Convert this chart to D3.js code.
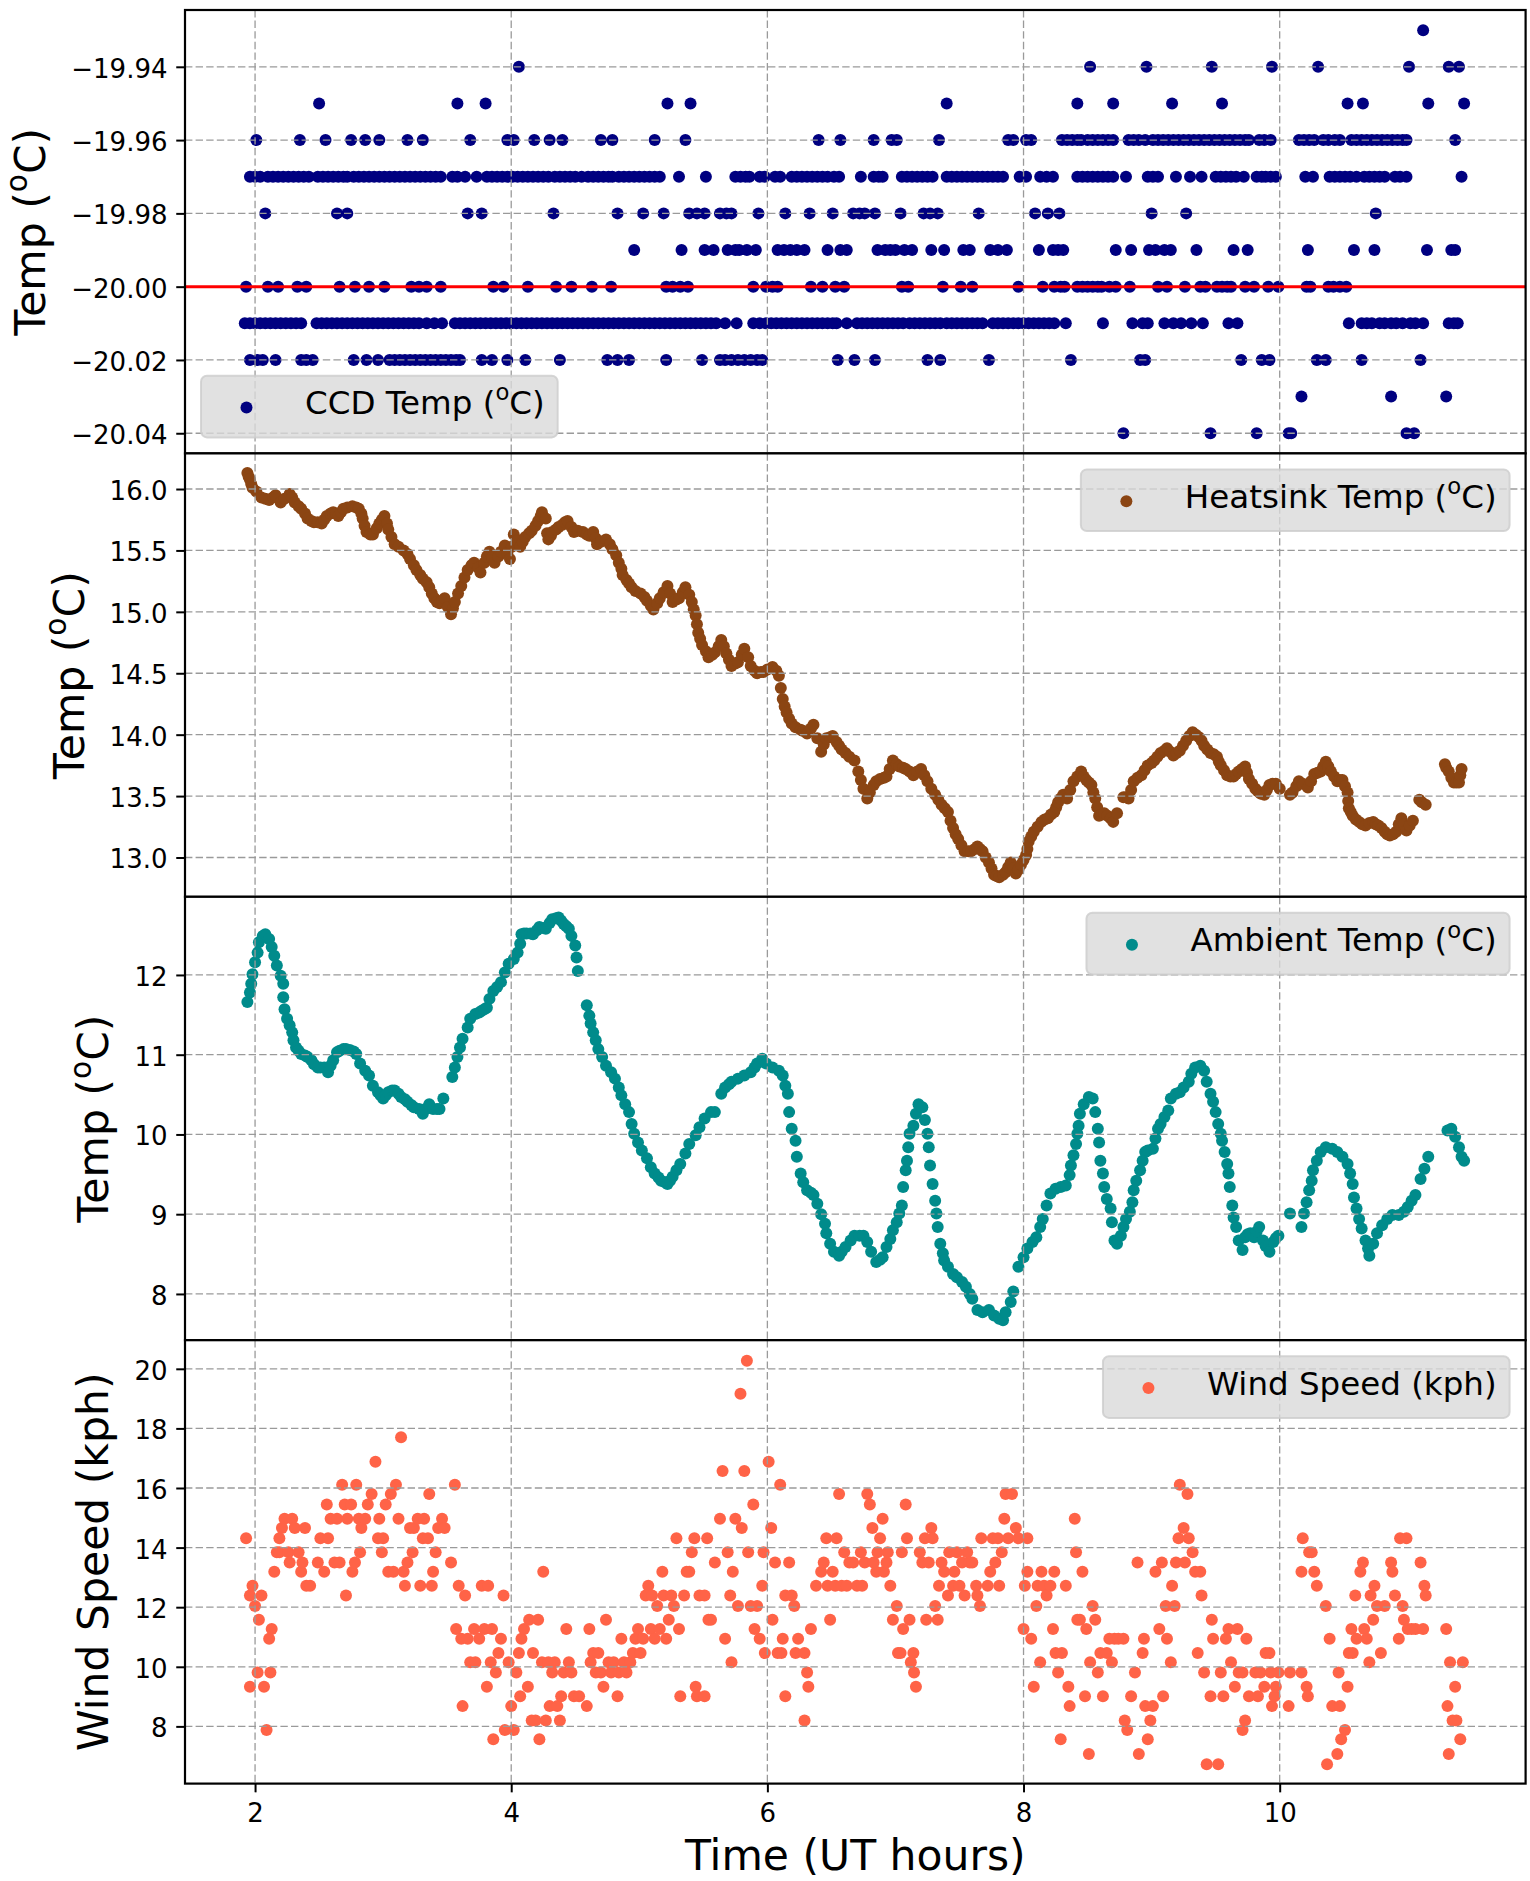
<!DOCTYPE html>
<html>
<head>
<meta charset="utf-8">
<title>CCD, heatsink, ambient temperature and wind log</title>
<script src="https://d3js.org/d3.v7.min.js"></script>
<style>
  body { margin: 0; background: #fff; }
  svg { display: block; font-family: "DejaVu Sans", sans-serif; }
</style>
</head>
<body>
<svg id="chart" width="1530" height="1881"></svg>
<script>
"use strict";

// shared time axis (UT hours)
var timeDomain = [1.453, 11.92];
var timeTicks = [2, 4, 6, 8, 10];
var timeLabel = ["Time (UT hours)"];

// CCD temperature: the sensor reports in 0.01 steps, so keep one list of sample times per level
var ccdLevels = [-19.93, -19.94, -19.95, -19.96, -19.97, -19.98, -19.99, -20.00, -20.01, -20.02, -20.03, -20.04];
var ccdAt1993 = [11.12];
var ccdAt1994 = [4.06, 8.52, 8.96, 9.47, 9.94, 10.30, 11.01, 11.32, 11.40];
var ccdAt1995 = [2.50, 3.58, 3.80, 5.22, 5.40, 7.40, 8.42, 8.70, 9.16, 9.55, 10.53, 10.65, 11.16, 11.44];
var ccdAt1996 = [2.01, 2.35, 2.55, 2.75, 2.86, 2.97, 3.19, 3.31, 3.68, 3.97, 4.02, 4.18, 4.30, 4.40, 4.70, 4.79,
  5.12, 5.36, 6.40, 6.57, 6.83, 6.97, 7.01, 7.34, 7.88, 7.92, 8.02, 8.06, 8.30, 8.34, 8.38, 8.42, 8.45,
  8.50, 8.54, 8.58, 8.62, 8.66, 8.70, 8.82, 8.86, 8.90, 8.95, 9.01, 9.05, 9.09, 9.13, 9.17, 9.21, 9.25,
  9.29, 9.33, 9.37, 9.41, 9.45, 9.49, 9.53, 9.57, 9.61, 9.65, 9.69, 9.73, 9.76, 9.84, 9.88, 9.93,
  10.15, 10.19, 10.23, 10.27, 10.34, 10.38, 10.43, 10.47, 10.56, 10.60, 10.64, 10.68, 10.72, 10.76,
  10.80, 10.84, 10.88, 10.92, 10.96, 10.99, 11.37];
var ccdAt1997 = [1.96, 2.00, 2.04, 2.10, 2.14, 2.18, 2.22, 2.26, 2.30, 2.34, 2.38, 2.42, 2.49, 2.53, 2.57,
  2.61, 2.65, 2.69, 2.72, 2.77, 2.81, 2.85, 2.89, 2.93, 2.97, 3.01, 3.05, 3.09, 3.13, 3.17, 3.21, 3.25,
  3.29, 3.33, 3.37, 3.41, 3.45, 3.54, 3.58, 3.64, 3.73, 3.81, 3.85, 3.89, 3.93, 3.97, 4.01, 4.05, 4.09,
  4.13, 4.17, 4.21, 4.25, 4.29, 4.34, 4.38, 4.42, 4.46, 4.50, 4.55, 4.60, 4.64, 4.68, 4.72, 4.76, 4.79,
  4.84, 4.88, 4.92, 4.96, 5.00, 5.04, 5.08, 5.12, 5.16, 5.31, 5.52, 5.75, 5.79, 5.83, 5.86, 5.94, 5.98,
  6.06, 6.10, 6.19, 6.23, 6.27, 6.31, 6.35, 6.39, 6.43, 6.47, 6.52, 6.56, 6.73, 6.83, 6.87, 6.90,
  7.05, 7.09, 7.13, 7.17, 7.21, 7.25, 7.29, 7.40, 7.44, 7.48, 7.52, 7.56, 7.60, 7.64, 7.68, 7.72, 7.76,
  7.80, 7.84, 7.97, 8.02, 8.13, 8.18, 8.23, 8.42, 8.46, 8.50, 8.54, 8.58, 8.62, 8.66, 8.70, 8.80, 8.97,
  9.01, 9.05, 9.19, 9.30, 9.39, 9.50, 9.54, 9.58, 9.62, 9.66, 9.72, 9.82, 9.86, 9.89, 9.93, 9.97,
  10.20, 10.26, 10.39, 10.43, 10.47, 10.51, 10.55, 10.60, 10.66, 10.70, 10.74, 10.78, 10.82, 10.90,
  10.94, 10.99, 11.42];
var ccdAt1998 = [2.08, 2.64, 2.72, 3.66, 3.77, 4.33, 4.83, 5.03, 5.19, 5.39, 5.45, 5.51, 5.63, 5.68, 5.72,
  5.93, 6.14, 6.33, 6.51, 6.67, 6.72, 6.76, 6.84, 7.04, 7.22, 7.27, 7.33, 7.65, 8.09, 8.19, 8.28, 9.00,
  9.27, 10.75];
var ccdAt1999 = [4.96, 5.33, 5.51, 5.58, 5.69, 5.75, 5.78, 5.84, 5.91, 6.08, 6.13, 6.18, 6.23, 6.29, 6.47,
  6.57, 6.62, 6.86, 6.92, 6.96, 7.00, 7.07, 7.13, 7.28, 7.38, 7.53, 7.58, 7.74, 7.80, 7.87, 8.12, 8.23,
  8.27, 8.31, 8.72, 8.84, 8.98, 9.03, 9.10, 9.15, 9.35, 9.64, 9.75, 10.22, 10.58, 10.74, 11.15, 11.34,
  11.37];
var ccdAt2000 = [1.93, 2.10, 2.18, 2.33, 2.40, 2.66, 2.78, 2.89, 3.01, 3.22, 3.28, 3.34, 3.45, 3.86, 3.94,
  4.13, 4.35, 4.47, 4.63, 4.78, 5.21, 5.26, 5.32, 5.38, 5.89, 5.99, 6.04, 6.08, 6.34, 6.43, 6.53, 6.60,
  7.05, 7.10, 7.37, 7.51, 7.60, 7.96, 8.15, 8.24, 8.29, 8.32, 8.42, 8.46, 8.50, 8.54, 8.58, 8.61, 8.67,
  8.72, 8.83, 9.05, 9.12, 9.26, 9.38, 9.42, 9.51, 9.55, 9.59, 9.62, 9.73, 9.80, 9.91, 9.99, 10.21,
  10.24, 10.38, 10.42, 10.47, 10.52];
var ccdAt2001 = [1.92, 1.96, 2.00, 2.04, 2.08, 2.12, 2.16, 2.20, 2.24, 2.28, 2.32, 2.36, 2.48, 2.52, 2.56,
  2.60, 2.64, 2.68, 2.72, 2.76, 2.80, 2.84, 2.88, 2.92, 2.96, 3.00, 3.04, 3.08, 3.12, 3.16, 3.20, 3.24,
  3.28, 3.34, 3.40, 3.46, 3.56, 3.60, 3.64, 3.68, 3.72, 3.76, 3.80, 3.84, 3.88, 3.92, 3.96, 4.00, 4.04,
  4.08, 4.12, 4.16, 4.20, 4.24, 4.28, 4.32, 4.36, 4.40, 4.44, 4.48, 4.52, 4.56, 4.60, 4.64, 4.68, 4.72,
  4.76, 4.80, 4.84, 4.88, 4.92, 4.96, 5.00, 5.04, 5.08, 5.12, 5.16, 5.20, 5.24, 5.28, 5.32, 5.36, 5.40,
  5.44, 5.48, 5.52, 5.56, 5.60, 5.67, 5.76, 5.89, 5.94, 5.99, 6.03, 6.07, 6.11, 6.15, 6.19, 6.23, 6.27,
  6.31, 6.35, 6.39, 6.43, 6.47, 6.51, 6.54, 6.62, 6.70, 6.74, 6.78, 6.82, 6.86, 6.90, 6.94, 6.98, 7.02,
  7.06, 7.11, 7.15, 7.19, 7.23, 7.27, 7.31, 7.35, 7.40, 7.44, 7.48, 7.52, 7.56, 7.60, 7.64, 7.68, 7.76,
  7.80, 7.84, 7.88, 7.92, 7.96, 8.00, 8.04, 8.08, 8.12, 8.16, 8.20, 8.24, 8.33, 8.62, 8.85, 8.93, 8.97,
  9.10, 9.17, 9.23, 9.31, 9.40, 9.60, 9.67, 10.54, 10.64, 10.68, 10.72, 10.78, 10.82, 10.87, 10.91,
  10.96, 11.02, 11.06, 11.12, 11.32, 11.36, 11.39];
var ccdAt2002 = [1.96, 2.02, 2.06, 2.16, 2.36, 2.40, 2.45, 2.77, 2.87, 2.96, 3.05, 3.09, 3.13, 3.17, 3.21,
  3.25, 3.29, 3.33, 3.37, 3.41, 3.45, 3.49, 3.53, 3.57, 3.60, 3.77, 3.85, 3.97, 4.11, 4.38, 4.75, 4.83,
  4.92, 5.21, 5.49, 5.63, 5.67, 5.72, 5.77, 5.82, 5.87, 5.92, 5.96, 6.55, 6.68, 6.84, 7.25, 7.35, 7.73,
  8.37, 8.91, 8.95, 9.70, 9.86, 9.92, 10.29, 10.36, 10.64, 11.10];
var ccdAt2003 = [10.17, 10.87, 11.30];
var ccdAt2004 = [8.78, 9.46, 9.82, 10.07, 10.09, 10.99, 11.05];
var ccdTimes = [ccdAt1993, ccdAt1994, ccdAt1995, ccdAt1996, ccdAt1997, ccdAt1998, ccdAt1999,
  ccdAt2000, ccdAt2001, ccdAt2002, ccdAt2003, ccdAt2004];
var ccdDomain = [-20.0455, -19.9245];
var ccdTicks = [-20.04, -20.02, -20.00, -19.98, -19.96, -19.94];
var ccdSetPoint = -20.00;

// heatsink temperature, [hour, degC]
var heatsink = [[1.94,16.13],[1.95,16.10],[1.96,16.08],[1.97,16.04],[1.98,16.01],[2.01,15.98],[2.05,15.93],
  [2.08,15.92],[2.11,15.91],[2.14,15.93],[2.16,15.95],[2.20,15.89],[2.23,15.92],[2.27,15.96],[2.29,15.93],
  [2.31,15.89],[2.34,15.86],[2.36,15.84],[2.39,15.80],[2.41,15.76],[2.44,15.74],[2.46,15.73],[2.49,15.73],
  [2.52,15.72],[2.54,15.75],[2.56,15.78],[2.59,15.80],[2.61,15.81],[2.63,15.80],[2.65,15.78],[2.67,15.81],
  [2.69,15.84],[2.72,15.85],[2.76,15.86],[2.79,15.85],[2.81,15.84],[2.83,15.80],[2.84,15.76],[2.855,15.70],
  [2.87,15.65],[2.90,15.63],[2.92,15.63],[2.95,15.68],[2.97,15.72],[2.99,15.75],[3.01,15.78],[3.03,15.72],
  [3.04,15.67],[3.065,15.61],[3.09,15.55],[3.12,15.53],[3.16,15.50],[3.19,15.47],[3.21,15.43],[3.24,15.38],
  [3.26,15.34],[3.29,15.30],[3.31,15.27],[3.34,15.24],[3.36,15.20],[3.38,15.15],[3.40,15.11],[3.42,15.08],
  [3.44,15.07],[3.46,15.09],[3.48,15.11],[3.505,15.04],[3.53,14.98],[3.545,15.03],[3.56,15.08],[3.585,15.15],
  [3.61,15.21],[3.635,15.28],[3.66,15.34],[3.69,15.38],[3.71,15.40],[3.74,15.36],[3.76,15.32],[3.79,15.40],
  [3.81,15.45],[3.83,15.49],[3.85,15.44],[3.87,15.40],[3.90,15.45],[3.92,15.49],[3.95,15.54],[3.97,15.48],
  [3.99,15.43],[4.005,15.53],[4.02,15.63],[4.05,15.58],[4.07,15.53],[4.09,15.57],[4.11,15.61],[4.14,15.64],
  [4.16,15.66],[4.19,15.70],[4.21,15.74],[4.23,15.78],[4.24,15.81],[4.27,15.76],[4.28,15.64],[4.29,15.59],
  [4.31,15.62],[4.32,15.65],[4.35,15.67],[4.37,15.69],[4.40,15.71],[4.42,15.73],[4.44,15.74],[4.47,15.69],
  [4.49,15.65],[4.52,15.66],[4.56,15.65],[4.59,15.63],[4.61,15.62],[4.64,15.65],[4.66,15.60],[4.67,15.55],
  [4.70,15.57],[4.74,15.59],[4.77,15.55],[4.79,15.51],[4.82,15.46],[4.84,15.40],[4.86,15.35],[4.87,15.30],
  [4.90,15.26],[4.92,15.23],[4.94,15.20],[4.97,15.17],[5.01,15.15],[5.04,15.12],[5.06,15.09],[5.09,15.05],
  [5.11,15.02],[5.14,15.07],[5.16,15.11],[5.19,15.16],[5.22,15.21],[5.24,15.15],[5.26,15.08],[5.29,15.10],
  [5.31,15.11],[5.34,15.16],[5.36,15.20],[5.39,15.14],[5.41,15.08],[5.425,15.02],[5.44,14.97],[5.45,14.90],
  [5.46,14.83],[5.475,14.78],[5.49,14.73],[5.52,14.68],[5.54,14.63],[5.57,14.65],[5.59,14.67],[5.62,14.72],
  [5.64,14.77],[5.66,14.72],[5.68,14.66],[5.70,14.61],[5.72,14.56],[5.75,14.58],[5.77,14.59],[5.80,14.65],
  [5.82,14.70],[5.85,14.63],[5.87,14.56],[5.90,14.52],[5.92,14.50],[5.95,14.51],[5.97,14.51],[6.00,14.53],
  [6.04,14.55],[6.07,14.52],[6.09,14.48],[6.105,14.38],[6.12,14.29],[6.135,14.23],[6.15,14.18],[6.17,14.13],
  [6.19,14.09],[6.22,14.06],[6.26,14.04],[6.28,14.03],[6.31,14.01],[6.34,14.05],[6.36,14.08],[6.39,13.97],
  [6.42,13.86],[6.44,13.92],[6.46,13.97],[6.49,13.98],[6.51,13.99],[6.54,13.94],[6.56,13.91],[6.58,13.88],
  [6.61,13.85],[6.64,13.82],[6.68,13.79],[6.71,13.70],[6.73,13.63],[6.75,13.56],[6.78,13.48],[6.80,13.53],
  [6.83,13.59],[6.85,13.62],[6.88,13.64],[6.91,13.65],[6.93,13.66],[6.955,13.72],[6.98,13.79],[7.01,13.76],
  [7.03,13.74],[7.06,13.73],[7.08,13.72],[7.11,13.70],[7.14,13.67],[7.17,13.70],[7.20,13.72],[7.225,13.67],
  [7.25,13.62],[7.28,13.56],[7.31,13.51],[7.335,13.47],[7.36,13.43],[7.385,13.40],[7.41,13.37],[7.43,13.30],
  [7.45,13.24],[7.47,13.19],[7.49,13.15],[7.515,13.10],[7.54,13.05],[7.57,13.05],[7.59,13.05],[7.62,13.07],
  [7.64,13.09],[7.66,13.07],[7.68,13.05],[7.705,13.00],[7.73,12.96],[7.75,12.91],[7.77,12.86],[7.79,12.85],
  [7.81,12.84],[7.84,12.86],[7.86,12.88],[7.88,12.92],[7.90,12.96],[7.92,12.91],[7.94,12.87],[7.96,12.90],
  [7.98,12.94],[8.00,12.98],[8.02,13.02],[8.03,13.07],[8.04,13.13],[8.06,13.17],[8.08,13.21],[8.11,13.25],
  [8.14,13.29],[8.165,13.31],[8.19,13.32],[8.215,13.35],[8.24,13.37],[8.255,13.41],[8.27,13.45],[8.29,13.48],
  [8.31,13.51],[8.34,13.48],[8.365,13.55],[8.39,13.62],[8.42,13.66],[8.45,13.70],[8.47,13.66],[8.49,13.63],
  [8.51,13.61],[8.53,13.59],[8.545,13.53],[8.56,13.48],[8.575,13.41],[8.59,13.34],[8.61,13.35],[8.63,13.36],
  [8.655,13.34],[8.68,13.32],[8.70,13.29],[8.73,13.36],[8.78,13.49],[8.80,13.49],[8.82,13.48],[8.84,13.55],
  [8.86,13.62],[8.89,13.65],[8.92,13.67],[8.945,13.71],[8.97,13.75],[9.00,13.77],[9.02,13.79],[9.045,13.82],
  [9.07,13.85],[9.10,13.87],[9.12,13.89],[9.145,13.86],[9.17,13.83],[9.195,13.85],[9.22,13.87],[9.245,13.91],
  [9.27,13.95],[9.295,13.99],[9.32,14.02],[9.345,14.00],[9.37,13.98],[9.39,13.95],[9.41,13.91],[9.435,13.88],
  [9.46,13.85],[9.485,13.84],[9.51,13.82],[9.525,13.78],[9.54,13.75],[9.565,13.71],[9.59,13.67],[9.615,13.66],
  [9.64,13.66],[9.66,13.68],[9.68,13.70],[9.705,13.72],[9.73,13.74],[9.745,13.69],[9.76,13.64],[9.785,13.60],
  [9.81,13.56],[9.83,13.54],[9.85,13.52],[9.88,13.51],[9.90,13.55],[9.92,13.59],[9.945,13.60],[9.97,13.60],
  [10.00,13.56],[10.08,13.51],[10.10,13.53],[10.13,13.58],[10.15,13.62],[10.18,13.60],[10.22,13.57],
  [10.245,13.62],[10.27,13.68],[10.295,13.69],[10.32,13.70],[10.34,13.74],[10.36,13.78],[10.38,13.74],
  [10.40,13.70],[10.425,13.66],[10.45,13.62],[10.47,13.63],[10.49,13.63],[10.51,13.58],[10.53,13.53],
  [10.535,13.46],[10.54,13.40],[10.555,13.37],[10.57,13.34],[10.595,13.31],[10.62,13.29],[10.645,13.27],
  [10.67,13.26],[10.70,13.28],[10.73,13.29],[10.75,13.27],[10.77,13.26],[10.795,13.24],[10.82,13.21],
  [10.84,13.19],[10.86,13.18],[10.885,13.19],[10.91,13.21],[10.93,13.27],[10.95,13.32],[10.97,13.27],
  [10.99,13.22],[11.015,13.26],[11.04,13.30],[11.09,13.47],[11.11,13.45],[11.14,13.43],[11.29,13.76],
  [11.30,13.73],[11.32,13.70],[11.34,13.65],[11.36,13.61],[11.38,13.61],[11.40,13.61],[11.41,13.67],[11.42,13.72]];
var heatsinkDomain = [12.68, 16.29];
var heatsinkTicks = [13.0, 13.5, 14.0, 14.5, 15.0, 15.5, 16.0];

// ambient temperature, [hour, degC]
var ambient = [[1.94,11.66],[1.96,11.78],[1.97,11.89],[1.98,12.01],[2.00,12.16],[2.02,12.28],[2.03,12.41],
  [2.06,12.49],[2.08,12.51],[2.11,12.45],[2.13,12.35],[2.15,12.24],[2.17,12.12],[2.20,11.99],[2.22,11.89],
  [2.22,11.72],[2.23,11.57],[2.25,11.45],[2.27,11.37],[2.29,11.28],[2.30,11.18],[2.32,11.09],[2.34,11.05],
  [2.36,11.01],[2.39,10.99],[2.41,10.97],[2.44,10.93],[2.46,10.88],[2.49,10.84],[2.51,10.84],[2.54,10.84],
  [2.57,10.78],[2.59,10.86],[2.61,10.93],[2.64,11.03],[2.66,11.05],[2.69,11.07],[2.71,11.07],[2.74,11.06],
  [2.77,11.04],[2.79,11.01],[2.82,10.89],[2.86,10.80],[2.89,10.74],[2.92,10.61],[2.96,10.53],[2.98,10.49],
  [3.00,10.45],[3.02,10.49],[3.04,10.53],[3.07,10.55],[3.09,10.55],[3.12,10.51],[3.14,10.47],[3.17,10.44],
  [3.19,10.41],[3.22,10.37],[3.24,10.34],[3.28,10.32],[3.31,10.26],[3.33,10.32],[3.36,10.38],[3.39,10.32],
  [3.42,10.32],[3.44,10.32],[3.47,10.45],[3.54,10.72],[3.56,10.84],[3.58,10.97],[3.60,11.09],[3.62,11.20],
  [3.66,11.34],[3.68,11.45],[3.72,11.51],[3.75,11.53],[3.77,11.55],[3.79,11.57],[3.81,11.59],[3.83,11.70],
  [3.86,11.80],[3.89,11.85],[3.92,11.91],[3.95,12.03],[3.98,12.14],[4.02,12.20],[4.05,12.28],[4.07,12.39],
  [4.08,12.51],[4.10,12.52],[4.12,12.52],[4.15,12.52],[4.17,12.51],[4.20,12.56],[4.22,12.60],[4.25,12.59],
  [4.27,12.58],[4.30,12.65],[4.32,12.70],[4.35,12.71],[4.37,12.72],[4.39,12.68],[4.41,12.64],[4.43,12.61],
  [4.45,12.58],[4.47,12.49],[4.50,12.37],[4.51,12.22],[4.52,12.05],[4.59,11.62],[4.61,11.49],[4.62,11.39],
  [4.64,11.28],[4.66,11.18],[4.68,11.07],[4.71,10.97],[4.74,10.86],[4.78,10.78],[4.81,10.70],[4.84,10.59],
  [4.86,10.49],[4.89,10.38],[4.92,10.28],[4.94,10.13],[4.96,10.01],[4.99,9.90],[5.02,9.80],[5.06,9.70],
  [5.09,9.59],[5.12,9.51],[5.15,9.46],[5.17,9.42],[5.20,9.40],[5.22,9.38],[5.24,9.42],[5.26,9.47],
  [5.29,9.55],[5.32,9.63],[5.36,9.76],[5.39,9.88],[5.44,9.99],[5.47,10.09],[5.51,10.20],[5.56,10.28],
  [5.59,10.28],[5.64,10.51],[5.67,10.59],[5.70,10.63],[5.72,10.66],[5.77,10.70],[5.82,10.74],[5.87,10.78],
  [5.90,10.84],[5.92,10.89],[5.96,10.95],[5.99,10.89],[6.04,10.84],[6.09,10.80],[6.12,10.74],[6.14,10.61],
  [6.16,10.51],[6.17,10.28],[6.19,10.07],[6.22,9.92],[6.23,9.72],[6.26,9.51],[6.28,9.40],[6.31,9.30],
  [6.34,9.27],[6.36,9.24],[6.39,9.13],[6.42,9.00],[6.45,8.88],[6.46,8.76],[6.49,8.63],[6.52,8.53],
  [6.56,8.48],[6.58,8.53],[6.61,8.59],[6.65,8.67],[6.68,8.73],[6.72,8.73],[6.75,8.73],[6.78,8.65],
  [6.81,8.53],[6.85,8.40],[6.88,8.43],[6.90,8.46],[6.93,8.59],[6.96,8.69],[6.98,8.80],[7.01,8.90],
  [7.03,9.01],[7.05,9.11],[7.06,9.34],[7.08,9.55],[7.09,9.67],[7.10,9.84],[7.11,10.01],[7.14,10.11],
  [7.16,10.26],[7.18,10.38],[7.21,10.34],[7.23,10.18],[7.25,10.01],[7.26,9.84],[7.27,9.61],[7.29,9.38],
  [7.31,9.17],[7.32,9.01],[7.33,8.84],[7.35,8.63],[7.37,8.51],[7.38,8.42],[7.41,8.34],[7.45,8.25],
  [7.48,8.21],[7.52,8.15],[7.55,8.09],[7.58,8.00],[7.60,7.94],[7.64,7.80],[7.68,7.77],[7.73,7.80],
  [7.77,7.73],[7.81,7.69],[7.84,7.67],[7.86,7.77],[7.90,7.90],[7.92,8.03],[7.96,8.34],[8.00,8.46],
  [8.03,8.57],[8.07,8.65],[8.10,8.71],[8.13,8.84],[8.15,8.94],[8.18,9.11],[8.21,9.26],[8.25,9.32],
  [8.29,9.34],[8.33,9.36],[8.36,9.49],[8.37,9.61],[8.39,9.74],[8.41,9.88],[8.42,10.01],[8.43,10.11],
  [8.44,10.26],[8.47,10.38],[8.51,10.47],[8.54,10.45],[8.56,10.28],[8.58,10.07],[8.59,9.90],[8.60,9.67],
  [8.62,9.51],[8.63,9.34],[8.65,9.19],[8.68,9.07],[8.69,8.90],[8.71,8.67],[8.73,8.63],[8.76,8.73],
  [8.78,8.84],[8.80,8.94],[8.83,9.03],[8.85,9.15],[8.86,9.30],[8.88,9.42],[8.91,9.55],[8.93,9.67],
  [8.95,9.78],[8.97,9.80],[9.01,9.82],[9.03,9.95],[9.05,10.07],[9.07,10.13],[9.10,10.22],[9.13,10.30],
  [9.15,10.45],[9.19,10.51],[9.22,10.53],[9.25,10.59],[9.29,10.66],[9.31,10.76],[9.34,10.84],[9.38,10.86],
  [9.41,10.80],[9.43,10.66],[9.46,10.51],[9.48,10.41],[9.50,10.28],[9.52,10.13],[9.54,10.01],[9.55,9.92],
  [9.57,9.78],[9.59,9.63],[9.60,9.51],[9.61,9.34],[9.63,9.11],[9.64,8.96],[9.66,8.84],[9.68,8.67],
  [9.71,8.55],[9.73,8.71],[9.75,8.75],[9.77,8.76],[9.80,8.71],[9.82,8.78],[9.84,8.84],[9.87,8.67],
  [9.89,8.60],[9.92,8.53],[9.95,8.65],[9.97,8.70],[9.99,8.73],[10.08,9.01],[10.17,8.84],[10.19,9.01],
  [10.21,9.15],[10.23,9.30],[10.25,9.42],[10.26,9.55],[10.29,9.67],[10.32,9.78],[10.36,9.84],[10.41,9.82],
  [10.45,9.78],[10.49,9.72],[10.53,9.63],[10.55,9.51],[10.57,9.38],[10.58,9.21],[10.60,9.07],[10.62,8.94],
  [10.64,8.82],[10.67,8.67],[10.69,8.57],[10.70,8.48],[10.73,8.63],[10.76,8.76],[10.80,8.86],[10.84,8.94],
  [10.88,8.99],[10.93,8.99],[10.97,9.03],[11.00,9.09],[11.03,9.17],[11.06,9.24],[11.10,9.44],[11.13,9.57],
  [11.16,9.72],[11.31,10.05],[11.34,10.07],[11.37,9.97],[11.40,9.84],[11.42,9.72],[11.44,9.67]];
var ambientDomain = [7.42, 12.98];
var ambientTicks = [8, 9, 10, 11, 12];

// wind speed, [hour, kph]
var wind = [[1.93,14.31],[1.96,12.39],[1.98,12.72],[1.96,9.33],[2.00,12.04],[2.03,11.58],[2.05,12.39],
  [2.02,9.81],[2.07,9.33],[2.09,7.88],[2.11,10.94],[2.12,9.81],[2.13,11.27],[2.15,13.19],[2.17,13.84],
  [2.19,14.31],[2.21,14.66],[2.23,14.97],[2.19,13.84],[2.26,13.84],[2.27,13.50],[2.29,14.97],[2.31,14.66],
  [2.34,13.84],[2.36,13.19],[2.37,13.50],[2.39,14.66],[2.40,12.72],[2.43,12.72],[2.49,13.50],[2.51,14.31],
  [2.54,13.19],[2.56,15.45],[2.57,14.31],[2.59,14.97],[2.62,13.50],[2.64,14.97],[2.66,13.50],[2.68,16.11],
  [2.71,12.39],[2.70,15.45],[2.72,14.97],[2.75,15.45],[2.76,13.19],[2.78,13.50],[2.79,16.11],[2.81,14.97],
  [2.82,13.84],[2.83,14.66],[2.86,14.97],[2.88,15.45],[2.91,15.80],[2.94,16.88],[2.96,14.31],[2.97,14.97],
  [2.99,13.84],[3.00,14.31],[3.02,15.45],[3.04,13.19],[3.06,15.80],[3.08,13.19],[3.10,16.11],[3.12,14.97],
  [3.14,17.70],[3.16,13.19],[3.17,12.72],[3.19,13.50],[3.21,14.66],[3.23,13.84],[3.24,14.66],[3.27,14.97],
  [3.29,12.72],[3.31,14.31],[3.32,14.97],[3.35,14.31],[3.36,15.80],[3.38,12.72],[3.39,13.19],[3.41,13.84],
  [3.43,14.66],[3.46,14.97],[3.48,14.66],[3.53,13.50],[3.56,16.11],[3.57,11.27],[3.59,12.72],[3.61,10.94],
  [3.62,8.68],[3.64,12.39],[3.66,10.94],[3.68,10.15],[3.71,11.27],[3.72,10.15],[3.75,10.94],[3.77,12.72],
  [3.79,11.27],[3.81,9.33],[3.82,12.72],[3.84,10.15],[3.85,11.27],[3.86,7.57],[3.88,9.81],[3.90,10.46],
  [3.92,10.94],[3.94,12.39],[3.95,7.88],[3.98,10.15],[4.00,8.68],[4.02,7.88],[4.04,9.81],[4.06,10.46],
  [4.07,9.01],[4.08,10.94],[4.10,11.27],[4.13,9.33],[4.14,11.58],[4.16,8.20],[4.17,10.46],[4.19,8.20],
  [4.21,11.58],[4.22,7.57],[4.24,10.15],[4.25,13.19],[4.27,8.20],[4.29,10.15],[4.30,8.68],[4.32,9.81],
  [4.34,10.15],[4.36,8.68],[4.38,8.20],[4.39,9.01],[4.41,9.81],[4.43,11.27],[4.45,10.15],[4.47,9.81],
  [4.49,9.01],[4.53,9.01],[4.59,8.68],[4.61,11.27],[4.62,10.15],[4.64,10.46],[4.66,9.81],[4.68,10.46],
  [4.70,9.81],[4.72,9.33],[4.74,11.58],[4.76,10.15],[4.78,9.81],[4.80,10.15],[4.83,9.01],[4.84,9.81],
  [4.86,10.94],[4.88,10.15],[4.90,9.81],[4.93,10.15],[4.95,10.46],[4.97,10.94],[4.99,11.27],[5.01,10.46],
  [5.03,10.94],[5.05,12.39],[5.07,12.72],[5.09,11.27],[5.10,12.39],[5.12,10.94],[5.14,12.04],[5.16,11.27],
  [5.18,13.19],[5.19,12.39],[5.21,10.94],[5.23,11.58],[5.25,12.39],[5.27,12.04],[5.29,14.31],[5.31,11.27],
  [5.32,9.01],[5.35,12.39],[5.37,13.19],[5.39,13.19],[5.41,13.84],[5.43,14.31],[5.44,9.33],[5.45,9.01],
  [5.47,12.39],[5.51,12.39],[5.51,9.01],[5.53,14.31],[5.54,11.58],[5.56,11.58],[5.59,13.50],[5.63,14.97],
  [5.65,16.57],[5.67,10.94],[5.69,13.84],[5.71,12.39],[5.72,10.15],[5.73,13.19],[5.75,14.97],[5.77,12.04],
  [5.79,19.16],[5.80,14.66],[5.82,16.57],[5.84,20.27],[5.85,13.84],[5.87,12.04],[5.89,15.45],[5.90,11.27],
  [5.92,12.04],[5.94,10.94],[5.96,12.72],[5.97,13.84],[5.98,10.46],[6.01,16.88],[6.03,14.66],[6.04,11.58],
  [6.06,13.50],[6.08,10.46],[6.10,16.11],[6.11,10.46],[6.12,10.94],[6.14,9.01],[6.14,12.39],[6.17,13.50],
  [6.19,12.39],[6.21,12.04],[6.22,10.46],[6.24,10.94],[6.29,10.46],[6.31,9.81],[6.32,9.33],[6.29,8.20],
  [6.34,11.27],[6.38,12.72],[6.42,13.19],[6.44,13.50],[6.47,12.72],[6.49,11.58],[6.46,14.31],[6.51,13.19],
  [6.53,12.72],[6.54,14.31],[6.56,15.80],[6.58,12.72],[6.60,13.84],[6.62,12.72],[6.64,13.50],[6.67,13.50],
  [6.70,12.72],[6.73,13.84],[6.74,12.72],[6.76,13.50],[6.78,15.80],[6.80,15.45],[6.82,14.66],[6.83,13.50],
  [6.85,13.19],[6.86,13.84],[6.88,14.31],[6.90,14.97],[6.91,13.19],[6.93,13.50],[6.94,13.84],[6.96,12.72],
  [6.98,11.58],[7.01,12.04],[7.02,10.46],[7.04,10.46],[7.05,13.84],[7.06,11.27],[7.08,15.45],[7.09,14.31],
  [7.11,11.58],[7.12,10.15],[7.14,10.46],[7.145,9.81],[7.16,9.33],[7.19,13.84],[7.21,13.50],[7.23,14.31],
  [7.24,11.58],[7.26,13.50],[7.28,14.66],[7.29,14.31],[7.31,12.04],[7.33,11.58],[7.34,12.72],[7.36,13.50],
  [7.38,13.19],[7.41,12.39],[7.42,13.84],[7.45,12.72],[7.46,13.19],[7.48,13.84],[7.50,12.72],[7.52,13.50],
  [7.54,12.39],[7.56,13.84],[7.58,13.50],[7.60,13.50],[7.63,12.72],[7.64,12.39],[7.66,12.04],[7.67,14.31],
  [7.72,12.72],[7.74,13.19],[7.76,14.31],[7.78,13.50],[7.80,14.31],[7.81,12.72],[7.83,13.84],[7.85,14.97],
  [7.86,15.80],[7.88,14.31],[7.91,15.80],[7.94,14.66],[7.96,14.31],[8.00,11.27],[8.01,12.72],[8.03,13.19],
  [8.03,14.31],[8.06,10.94],[8.08,9.33],[8.10,12.04],[8.11,12.72],[8.13,10.15],[8.14,13.19],[8.16,12.72],
  [8.18,12.39],[8.21,12.72],[8.23,11.27],[8.24,13.19],[8.25,10.46],[8.27,9.81],[8.29,7.57],[8.30,10.46],
  [8.33,12.72],[8.35,9.33],[8.36,8.68],[8.40,14.97],[8.41,13.84],[8.42,11.58],[8.44,11.58],[8.46,13.19],
  [8.48,9.01],[8.49,11.27],[8.51,7.07],[8.52,10.15],[8.54,12.04],[8.56,11.58],[8.58,9.81],[8.60,10.46],
  [8.62,9.01],[8.65,10.46],[8.67,10.94],[8.69,10.15],[8.71,10.94],[8.74,10.94],[8.78,10.94],[8.79,8.20],
  [8.81,7.88],[8.84,9.01],[8.87,9.81],[8.89,13.50],[8.90,7.07],[8.93,10.46],[8.94,10.94],[8.95,8.68],
  [8.97,7.57],[8.99,8.20],[9.01,8.68],[9.03,13.19],[9.06,11.27],[9.08,13.50],[9.09,9.01],[9.11,12.04],
  [9.12,10.94],[9.15,10.15],[9.16,12.72],[9.18,12.04],[9.19,13.50],[9.21,14.31],[9.22,16.11],[9.25,14.66],
  [9.26,13.50],[9.28,15.80],[9.29,14.31],[9.32,13.84],[9.34,13.19],[9.36,10.46],[9.38,13.19],[9.39,12.39],
  [9.41,9.81],[9.46,9.01],[9.47,11.58],[9.43,6.73],[9.48,10.94],[9.52,6.73],[9.54,9.81],[9.56,9.01],
  [9.58,10.94],[9.60,11.27],[9.62,10.15],[9.65,9.33],[9.67,11.27],[9.68,9.81],[9.71,9.81],[9.71,7.88],
  [9.73,8.20],[9.74,10.94],[9.76,9.01],[9.81,9.81],[9.83,9.01],[9.85,9.81],[9.88,9.33],[9.89,10.46],
  [9.92,10.46],[9.93,9.81],[9.94,8.68],[9.96,9.01],[9.97,9.33],[9.99,9.81],[10.07,8.68],[10.08,9.81],
  [10.17,9.81],[10.18,14.31],[10.17,13.19],[10.21,9.33],[10.22,9.01],[10.23,13.84],[10.25,13.84],
  [10.27,13.19],[10.29,12.72],[10.36,12.04],[10.37,6.73],[10.39,10.94],[10.41,8.68],[10.45,7.07],
  [10.46,9.81],[10.47,8.68],[10.48,7.57],[10.51,7.88],[10.53,9.33],[10.54,10.46],[10.56,11.27],
  [10.57,10.46],[10.59,12.39],[10.60,10.94],[10.63,13.19],[10.65,13.50],[10.66,11.27],[10.68,10.94],
  [10.70,10.15],[10.71,12.39],[10.73,11.58],[10.74,12.72],[10.76,12.04],[10.79,10.46],[10.82,12.04],
  [10.87,13.50],[10.88,13.19],[10.90,12.39],[10.93,10.94],[10.94,14.31],[10.96,12.04],[10.97,11.58],
  [10.99,14.31],[11.00,11.27],[11.03,11.27],[11.06,11.27],[11.10,13.50],[11.12,11.27],[11.13,12.72],
  [11.14,12.39],[11.30,11.27],[11.31,8.68],[11.32,7.07],[11.33,10.15],[11.35,8.20],[11.37,9.33],
  [11.38,8.20],[11.41,7.57],[11.43,10.15]];
var windDomain = [6.08, 20.96];
var windTicks = [8, 10, 12, 14, 16, 18, 20];

// axis and legend texts; the middle part of a three-part label is set as a superscript
var tempLabel = ["Temp (", "o", "C)"];
var windLabel = ["Wind Speed (kph)"];
var ccdLegend = ["CCD Temp (", "o", "C)"];
var heatsinkLegend = ["Heatsink Temp (", "o", "C)"];
var ambientLegend = ["Ambient Temp (", "o", "C)"];
var windLegend = ["Wind Speed (kph)"];

(function() {
  var svg = d3.select("#chart");

  var left = 185,
      right = 1525.6,
      firstTop = 10,
      panelHeight = 443.4,
      dotRadius = 6;

  var tickFont = 26,
      labelFont = 42.5,
      legendFont = 32.5,
      tickLen = 8.75;

  var ccdPoints = [];
  ccdLevels.forEach(function(level, i) {
    ccdTimes[i].forEach(function(t) {
      ccdPoints.push([t, level]);
    });
  });

  var panels = [
    { points: ccdPoints, color: "#000080", domain: ccdDomain, ticks: ccdTicks,
      format: d3.format(".2f"), label: tempLabel, legend: ccdLegend, corner: "lower-left", refLine: ccdSetPoint },
    { points: heatsink, color: "#8b4513", domain: heatsinkDomain, ticks: heatsinkTicks,
      format: d3.format(".1f"), label: tempLabel, legend: heatsinkLegend, corner: "upper-right" },
    { points: ambient, color: "#008b8b", domain: ambientDomain, ticks: ambientTicks,
      format: d3.format("d"), label: tempLabel, legend: ambientLegend, corner: "upper-right" },
    { points: wind, color: "#ff6347", domain: windDomain, ticks: windTicks,
      format: d3.format("d"), label: windLabel, legend: windLegend, corner: "upper-right" }
  ];

  var x = d3.scaleLinear().domain(timeDomain).range([left, right]);

  function writeLabel(el, parts, size) {
    el.append("tspan").text(parts[0]);
    if (parts.length > 1) {
      el.append("tspan").attr("font-size", size * 0.7).attr("dy", -size * 0.42).text(parts[1]);
      el.append("tspan").attr("dy", size * 0.42).text(parts[2]);
    }
  }

  var defs = svg.append("defs");

  panels.forEach(function(p, i) {
    var top = firstTop + i * panelHeight;
    var bottom = top + panelHeight;
    var y = d3.scaleLinear().domain(p.domain).range([bottom, top]);
    var g = svg.append("g").attr("class", "panel");

    g.append("rect")
      .attr("x", left).attr("y", top)
      .attr("width", right - left).attr("height", panelHeight)
      .attr("fill", "#fff");

    defs.append("clipPath").attr("id", "clip-" + i)
      .append("rect")
        .attr("x", left).attr("y", top)
        .attr("width", right - left).attr("height", panelHeight);

    g.append("g")
      .attr("clip-path", "url(#clip-" + i + ")")
      .selectAll("circle")
      .data(p.points)
    .join("circle")
      .attr("cx", function(d) { return x(d[0]); })
      .attr("cy", function(d) { return y(d[1]); })
      .attr("r", dotRadius)
      .attr("fill", p.color);

    // dashed grid sits on top of the dots, as in the source plot
    var grid = g.append("g")
      .attr("stroke", "#9a9a9a")
      .attr("stroke-width", 1.3)
      .attr("stroke-dasharray", "7.4,3.2");

    grid.selectAll(".gx")
      .data(timeTicks)
    .join("line")
      .attr("class", "gx")
      .attr("x1", function(d) { return x(d); }).attr("x2", function(d) { return x(d); })
      .attr("y1", top).attr("y2", bottom);

    grid.selectAll(".gy")
      .data(p.ticks)
    .join("line")
      .attr("class", "gy")
      .attr("x1", left).attr("x2", right)
      .attr("y1", function(d) { return y(d); }).attr("y2", function(d) { return y(d); });

    if (p.refLine !== undefined) {
      g.append("line")
        .attr("x1", left).attr("x2", right)
        .attr("y1", y(p.refLine)).attr("y2", y(p.refLine))
        .attr("stroke", "#ff0000")
        .attr("stroke-width", 3);
    }

    g.append("rect")
      .attr("x", left).attr("y", top)
      .attr("width", right - left).attr("height", panelHeight)
      .attr("fill", "none")
      .attr("stroke", "#000")
      .attr("stroke-width", 2.2);

    var yAxis = g.append("g")
      .attr("transform", "translate(" + left + ",0)")
      .call(d3.axisLeft(y)
        .tickValues(p.ticks)
        .tickFormat(p.format)
        .tickSizeInner(tickLen)
        .tickSizeOuter(0)
        .tickPadding(tickLen));

    yAxis.attr("font-family", "DejaVu Sans").attr("font-size", tickFont);
    yAxis.select(".domain").remove();
    yAxis.selectAll(".tick line").attr("stroke", "#000").attr("stroke-width", 2);
    yAxis.selectAll(".tick text").attr("fill", "#000").attr("dy", "0.4em");

    var box = yAxis.node().getBBox();
    var yLabel = g.append("text")
      .attr("transform", "translate(" + (left + box.x - 26) + "," + (top + panelHeight / 2) + ") rotate(-90)")
      .attr("text-anchor", "middle")
      .attr("font-size", labelFont)
      .attr("fill", "#000");
    writeLabel(yLabel, p.label, labelFont);

    // legend box, laid out like matplotlib's (pad, handle length, text gap)
    var legend = g.append("g");
    var frame = legend.append("rect");
    var legendText = legend.append("text")
      .attr("font-size", legendFont)
      .attr("fill", "#000");
    writeLabel(legendText, p.legend, legendFont);

    var w = legendText.node().getBBox().width + 117;
    var h = 61.7;
    var lx, ly;
    if (p.corner === "lower-left") {
      lx = left + 16;
      ly = bottom - 16 - h;
    } else {
      lx = right - 16 - w;
      ly = top + 16;
    }

    frame
      .attr("x", lx).attr("y", ly)
      .attr("width", w).attr("height", h)
      .attr("rx", 6).attr("ry", 6)
      .attr("fill", "#d9d9d9")
      .attr("fill-opacity", 0.8)
      .attr("stroke", "#cccccc")
      .attr("stroke-opacity", 0.8)
      .attr("stroke-width", 2);

    legend.append("circle")
      .attr("cx", lx + 45.5)
      .attr("cy", ly + h / 2 + 1)
      .attr("r", dotRadius)
      .attr("fill", p.color);

    legendText.attr("x", lx + 104).attr("y", ly + h / 2 + 7.5);
  });

  // time axis under the last panel only
  var axisY = firstTop + panels.length * panelHeight;
  var xAxis = svg.append("g")
    .attr("transform", "translate(0," + axisY + ")")
    .call(d3.axisBottom(x)
      .tickValues(timeTicks)
      .tickFormat(d3.format("d"))
      .tickSizeInner(tickLen)
      .tickSizeOuter(0)
      .tickPadding(tickLen));

  xAxis.attr("font-family", "DejaVu Sans").attr("font-size", tickFont);
  xAxis.select(".domain").remove();
  xAxis.selectAll(".tick line").attr("stroke", "#000").attr("stroke-width", 2);
  xAxis.selectAll(".tick text").attr("fill", "#000").attr("dy", "0.8em");

  var xLabel = svg.append("text")
    .attr("x", (left + right) / 2)
    .attr("y", axisY + 86)
    .attr("text-anchor", "middle")
    .attr("font-size", labelFont)
    .attr("fill", "#000");
  writeLabel(xLabel, timeLabel, labelFont);
})();
</script>
</body>
</html>
